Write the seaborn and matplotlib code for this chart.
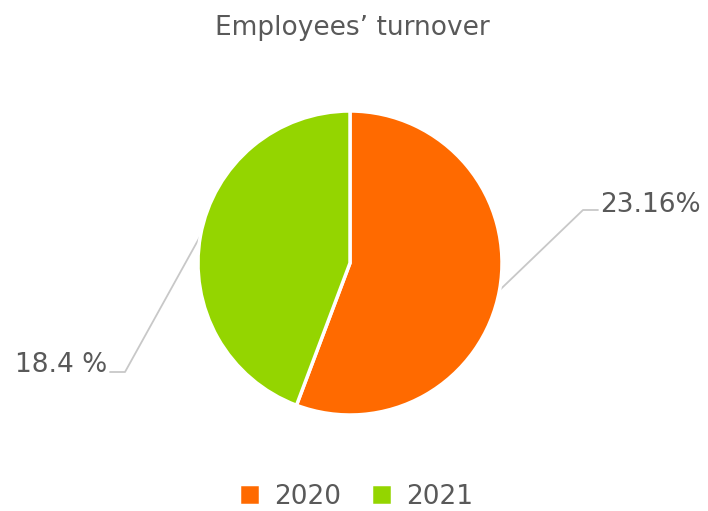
import matplotlib
matplotlib.use("Agg")
import matplotlib.pyplot as plt
import seaborn as sns
import numpy as np

# data
years = ["2020", "2021"]
turnover = [23.16, 18.4]
labels = ["23.16%", "18.4 %"]
colors = ["#FF6A00", "#94D500"]

sns.set_theme(style="white")
plt.rcParams["font.family"] = ["DejaVu Sans"]
grey = "#595959"

W, H = 708, 511
fig = plt.figure(figsize=(W / 100, H / 100), dpi=100)
ax = fig.add_axes([0, 0, 1, 1])

cx, cy, r = 350, 248, 152
wedges, _ = ax.pie(turnover, colors=colors, startangle=90, counterclock=False,
                   center=(cx, cy), radius=r, frame=True,
                   wedgeprops=dict(edgecolor="white", linewidth=2.5))
ax.set_xlim(0, W)
ax.set_ylim(0, H)
ax.set_aspect("equal")
ax.axis("off")

# leader lines + labels
elbows = [(583, 301), (125, 139)]
ends = [(598, 301), (110, 139)]
for w, lab, (ex, ey), (tx, ty) in zip(wedges, labels, elbows, ends):
    ang = np.deg2rad((w.theta1 + w.theta2) / 2)
    px, py = cx + r * np.cos(ang), cy + r * np.sin(ang)
    ax.plot([px, ex, tx], [py, ey, ty], color="#c8c8c8", lw=1.3, zorder=0)
    if tx > cx:
        ax.text(tx + 2, ty - 2, lab, ha="left", va="baseline", fontsize=19, color=grey)
    else:
        ax.text(tx - 3, ty, lab, ha="right", va="baseline", fontsize=19, color=grey)

ax.text(352, H - 28, "Employees’ turnover", ha="center", va="center",
        fontsize=19, color=grey)

leg = fig.legend(wedges, years, loc="center", bbox_to_anchor=(0.503, 0.028),
                 ncol=2, frameon=False, fontsize=19, handlelength=0.8,
                 handleheight=0.8, columnspacing=1.1, handletextpad=0.55)
for t in leg.get_texts():
    t.set_color(grey)

fig.savefig("out.png", dpi=100)
